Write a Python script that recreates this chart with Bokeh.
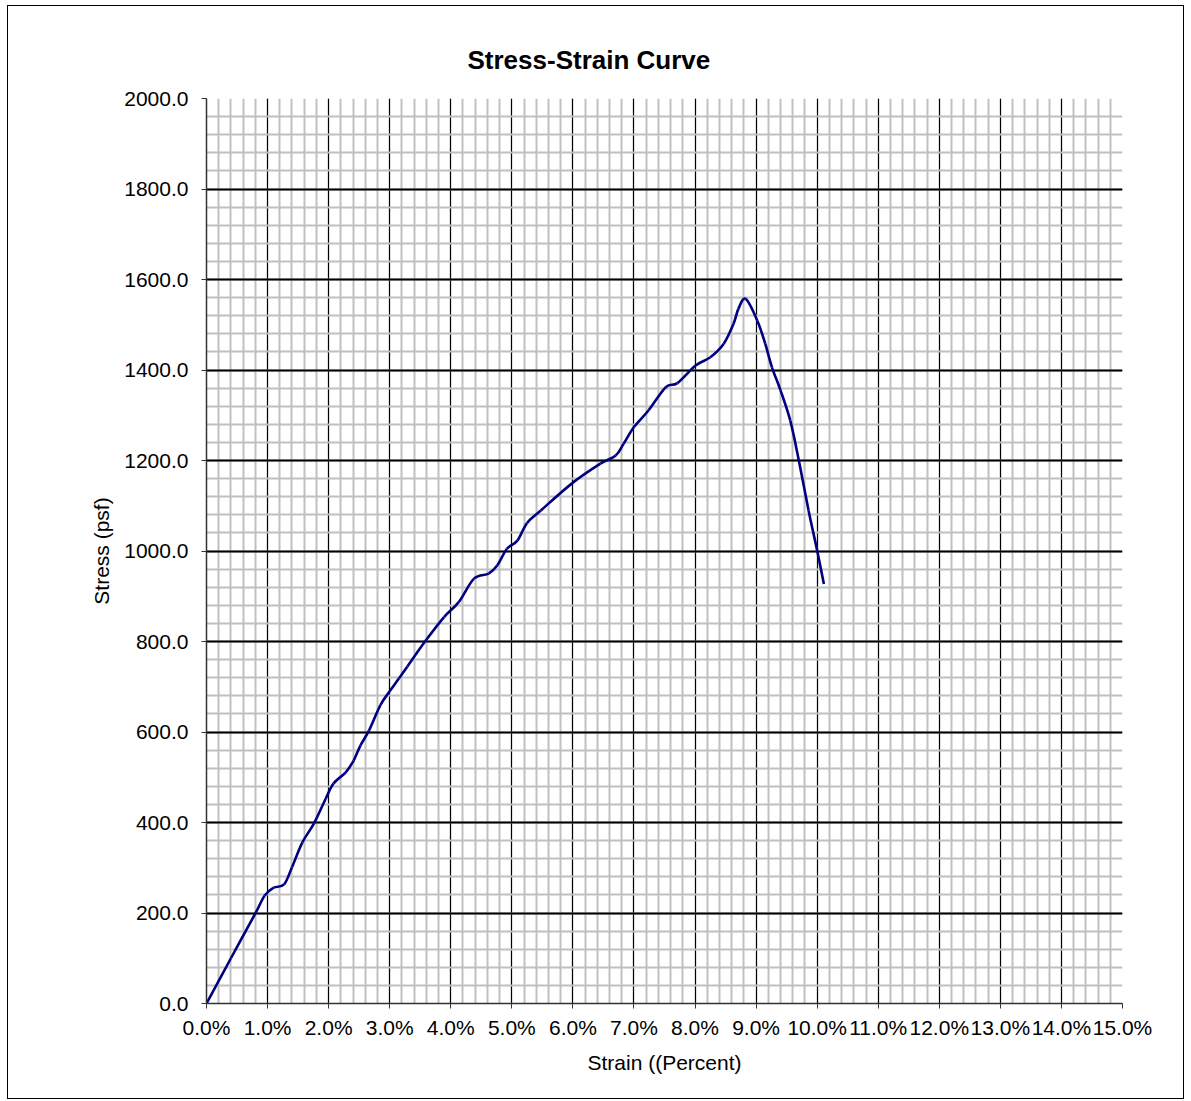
import numpy as np
from bokeh.plotting import figure
from bokeh.models import SingleIntervalTicker, PrintfTickFormatter, Range1d
from bokeh.embed import file_html
from bokeh.resources import INLINE

strain_pct = [0, 0.4, 0.8, 0.95, 1.1, 1.27, 1.4, 1.57, 1.76, 1.95, 2.08, 2.28, 2.41, 2.52,
              2.66, 2.85, 3.0, 3.15, 3.29, 3.59, 3.89, 4.13, 4.38, 4.62, 4.76, 4.92, 5.09,
              5.25, 5.47, 5.99, 6.45, 6.70, 6.83, 7.00, 7.24, 7.52, 7.71, 8.01, 8.25, 8.47,
              8.63, 8.71, 8.83, 9.02, 9.15, 9.26, 9.40, 9.56, 9.70, 9.86, 10.0, 10.11]
stress_psf = [0, 100, 199, 238, 256, 263, 301, 356, 398, 452, 486, 511, 537, 570,
              603, 660, 690, 718, 745, 802, 854, 887, 939, 950, 968, 1005, 1023,
              1062, 1089, 1150, 1193, 1211, 1237, 1274, 1311, 1362, 1371, 1410, 1428, 1458,
              1502, 1535, 1557, 1509, 1458, 1406, 1355, 1288, 1200, 1089, 1001, 927]

x_range = (0, 15)
y_range = (0, 2000)

p = figure(width=1177, height=1094, output_backend="svg", toolbar_location=None,
           x_range=Range1d(*x_range), y_range=Range1d(*y_range),
           min_border_left=198, min_border_right=63, min_border_top=92, min_border_bottom=97,
           styles={"border": "1px solid #000", "margin": "5px 0 0 7px"})

p.title.text = "Stress-Strain Curve"
p.title.text_font = "Liberation Sans"
p.title.text_font_size = "26px"
p.title.text_font_style = "bold"
p.title.text_color = "black"
p.title.align = "left"
p.title.offset = 261
p.title.standoff = 47

p.outline_line_color = None
p.background_fill_color = "white"
p.border_fill_color = "white"

p.xaxis.ticker = SingleIntervalTicker(interval=1, num_minor_ticks=5)
p.yaxis.ticker = SingleIntervalTicker(interval=200, num_minor_ticks=5)
p.xaxis.formatter = PrintfTickFormatter(format="%.1f%%")
p.yaxis.formatter = PrintfTickFormatter(format="%.1f")

for ax in (p.xaxis, p.yaxis):
    ax.axis_line_color = "#333333"
    ax.axis_line_width = 1.5
    ax.major_tick_line_color = "#333333"
    ax.major_tick_out = 5
    ax.major_tick_in = 0
    ax.minor_tick_line_color = None
    ax.major_label_text_font = "Liberation Sans"
    ax.major_label_text_font_size = "21px"
    ax.major_label_text_color = "black"
    ax.axis_label_text_font = "Liberation Sans"
    ax.axis_label_text_font_size = "21px"
    ax.axis_label_text_font_style = "normal"
    ax.axis_label_text_color = "black"

p.xaxis.axis_label = "Strain ((Percent)"
p.yaxis.axis_label = "Stress (psf)"
p.xaxis.major_label_standoff = 7
p.xaxis.axis_label_standoff = 9
p.yaxis.major_label_standoff = 13
p.yaxis.axis_label_standoff = 8

p.xgrid.grid_line_color = "black"
p.xgrid.grid_line_width = 1
p.xgrid.minor_grid_line_color = "#c0c0c0"
p.xgrid.minor_grid_line_width = 2
p.ygrid.grid_line_color = "black"
p.ygrid.grid_line_width = 2
p.ygrid.minor_grid_line_color = "#c0c0c0"
p.ygrid.minor_grid_line_width = 2

# smoothed line (Catmull-Rom -> cubic Bezier), like a spreadsheet "smoothed line"
xs = np.array(strain_pct, dtype=float)
ys = np.array(stress_psf, dtype=float)
xp = np.concatenate([[xs[0]], xs, [xs[-1]]])
yp = np.concatenate([[ys[0]], ys, [ys[-1]]])
n = len(xs) - 1
x0, y0 = xs[:-1], ys[:-1]
x1, y1 = xs[1:], ys[1:]
cx0 = x0 + (xp[2:n + 2] - xp[0:n]) / 6.0
cy0 = y0 + (yp[2:n + 2] - yp[0:n]) / 6.0
cx1 = x1 - (xp[3:n + 3] - xp[1:n + 1]) / 6.0
cy1 = y1 - (yp[3:n + 3] - yp[1:n + 1]) / 6.0
p.bezier(x0=x0, y0=y0, x1=x1, y1=y1, cx0=cx0, cy0=cy0, cx1=cx1, cy1=cy1,
         line_color="#000080", line_width=2.6)

open("out.html", "w").write(file_html(p, INLINE))
